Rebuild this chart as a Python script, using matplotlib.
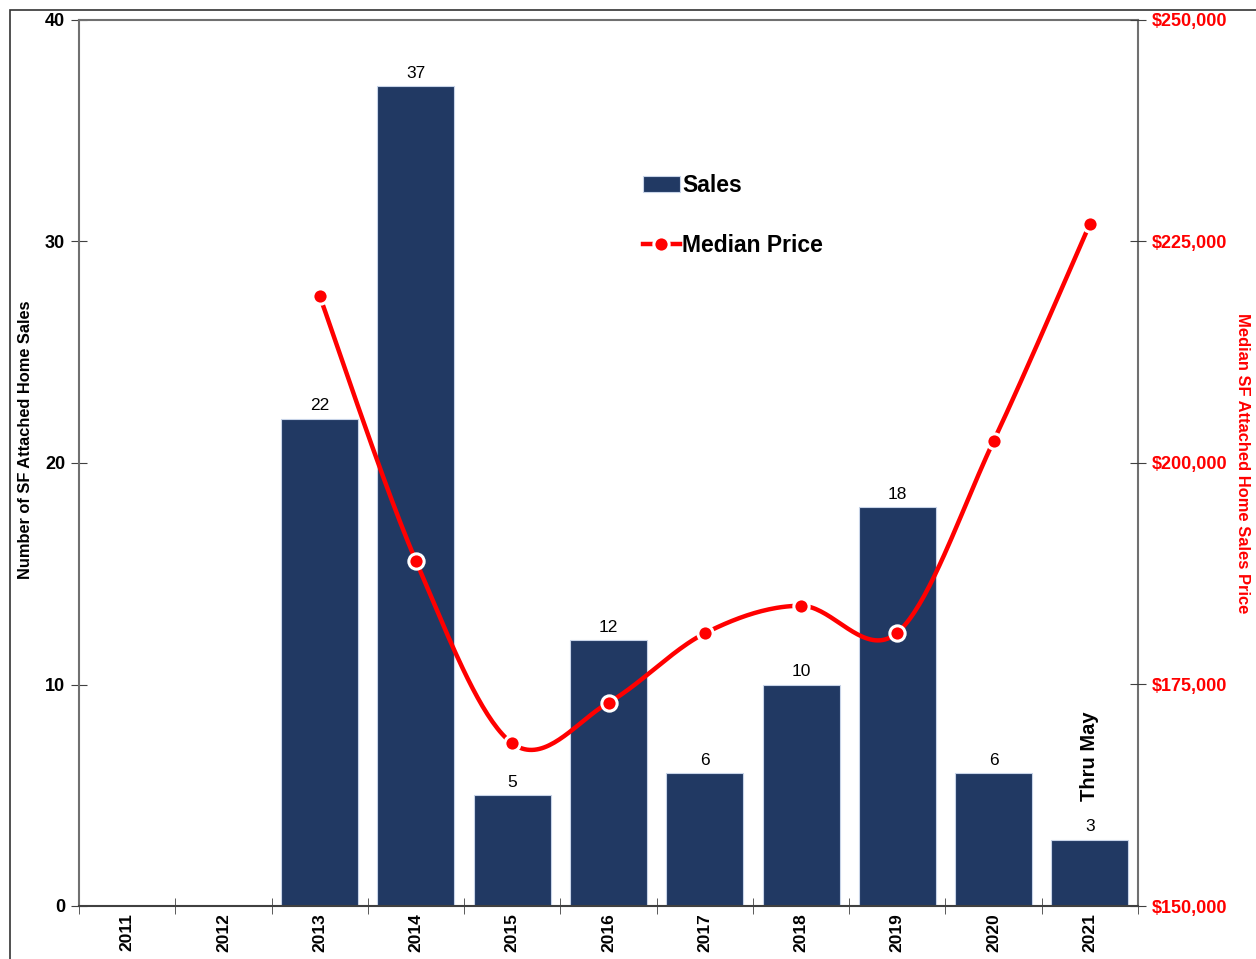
import numpy as np
import matplotlib.pyplot as plt
from matplotlib.patches import Rectangle

plt.rcParams["font.family"] = ["Liberation Sans", "DejaVu Sans"]

years = ["2011", "2012", "2013", "2014", "2015", "2016",
         "2017", "2018", "2019", "2020", "2021"]
sales = [0, 0, 22, 37, 5, 12, 6, 10, 18, 6, 3]
median_price = [None, None, 218850, 188940, 168360, 172950,
                180780, 183890, 180850, 202480, 226980]

BAR_COLOR = "#213963"
RED = "#ff0000"


def smooth_curve(xs, ys, steps=40):
    # Catmull-Rom style smoothing, like a spreadsheet's "smoothed line"
    pts = np.column_stack([xs, ys]).astype(float)
    padded = np.vstack([pts[0], pts, pts[-1]])
    out = []
    for i in range(1, len(padded) - 2):
        p0, p1, p2, p3 = padded[i - 1], padded[i], padded[i + 1], padded[i + 2]
        c1 = p1 + (p2 - p0) / 6
        c2 = p2 - (p3 - p1) / 6
        t = np.linspace(0, 1, steps)[:, None]
        seg = ((1 - t) ** 3 * p1 + 3 * (1 - t) ** 2 * t * c1
               + 3 * (1 - t) * t ** 2 * c2 + t ** 3 * p2)
        out.append(seg if i == 1 else seg[1:])
    out = np.vstack(out)
    return out[:, 0], out[:, 1]


def main():
    fig = plt.figure(figsize=(12.56, 9.59), dpi=100)
    ax = fig.add_axes([79 / 1256, 53 / 959, 1059 / 1256, 886 / 959])
    fig.add_artist(Rectangle((10 / 1256, -0.1), 1.2, (959 - 10) / 959 + 0.1,
                             transform=fig.transFigure, fill=False,
                             edgecolor="#333333", linewidth=1.2))

    x = np.arange(len(years))
    bars = ax.bar(x, sales, width=0.8, color=BAR_COLOR,
                  edgecolor="#c8d4e8", linewidth=0.8, label="Sales", zorder=2)
    for xi, v in zip(x, sales):
        if v > 0:
            ax.annotate(str(v), (xi, v), xytext=(0, 4), textcoords="offset points",
                        ha="center", va="bottom", fontsize=12.5)

    ax.set_xlim(-0.5, len(years) - 0.5)
    ax.set_ylim(0, 40)
    ax.set_yticks([0, 10, 20, 30, 40])
    ax.set_xticks(x)
    ax.set_xticklabels(years, rotation=90, fontsize=12.5, fontweight="bold")
    ax.set_xticks(np.arange(-0.5, len(years)), minor=True)
    ax.tick_params(axis="x", which="major", length=0, pad=5)
    ax.tick_params(axis="x", which="minor", direction="inout", length=12,
                   color="#404040")
    ax.tick_params(axis="y", direction="inout", length=12, color="#404040",
                   labelsize=13, pad=4)
    for lab in ax.get_yticklabels():
        lab.set_fontweight("bold")
    ax.set_ylabel("Number of SF Attached Home Sales", fontsize=11.8,
                  fontweight="bold")
    ax.yaxis.set_label_coords(-0.0434, 0.526)

    for side in ["left", "top", "right"]:
        ax.spines[side].set_color("#707070")
        ax.spines[side].set_linewidth(1.5)
    ax.spines["bottom"].set_color("#404040")
    ax.spines["bottom"].set_linewidth(1.5)

    ax2 = ax.twinx()
    px = [xi for xi, p in zip(x, median_price) if p is not None]
    py = [p for p in median_price if p is not None]
    sx, sy = smooth_curve(px, py)
    ax2.plot(sx, sy, color=RED, linewidth=3.2, zorder=3,
             solid_capstyle="butt")
    ax2.plot(px, py, linestyle="none", marker="o", markersize=11,
             markerfacecolor=RED, markeredgecolor="white",
             markeredgewidth=2.2, zorder=4)
    line_handle, = ax2.plot([], [], color=RED, linewidth=3.2, marker="o",
                            markersize=11, markerfacecolor=RED,
                            markeredgecolor="white", markeredgewidth=2.2)

    ax2.set_ylim(150000, 250000)
    ax2.set_yticks(np.arange(150000, 250001, 25000))
    ax2.set_yticklabels([f"${v:,.0f}" for v in np.arange(150000, 250001, 25000)],
                        color=RED, fontweight="bold", fontsize=13)
    ax2.tick_params(axis="y", direction="inout", length=12, color="#404040",
                    pad=4)
    ax2.set_ylabel("Median SF Attached Home Sales Price", color=RED,
                   fontsize=11.9, fontweight="bold", rotation=270)
    ax2.yaxis.set_label_coords(1.1062, 0.50)
    for side in ["left", "top", "right", "bottom"]:
        ax2.spines[side].set_visible(False)

    ax.text(10, 4.75, "Thru May", rotation=90, ha="center", va="bottom",
            fontsize=14.5, fontweight="bold")

    ax2.legend([bars, line_handle], ["Sales", "Median Price"],
               loc="upper left", bbox_to_anchor=(643 / 1256, 1 - 174 / 959),
               bbox_transform=fig.transFigure, frameon=False,
               borderpad=0, borderaxespad=0, handlelength=1.6,
               handletextpad=0.12, labelspacing=1.62,
               prop={"size": 16.5, "weight": "bold"})

    fig.savefig("out.png", dpi=100)


if __name__ == "__main__":
    main()
